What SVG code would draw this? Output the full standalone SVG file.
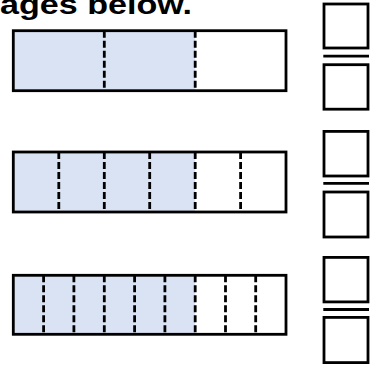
<svg xmlns="http://www.w3.org/2000/svg" width="370" height="368" viewBox="0 0 370 368">
<style>
.bar{stroke:#000;stroke-width:2.8;}
.div{stroke:#000;stroke-width:2.8;stroke-dasharray:7 3;fill:none;}
.box{fill:#fff;stroke:#000;stroke-width:2.8;}
.fl{stroke:#000;stroke-width:2.8;}
.title{font-family:"Liberation Sans",Arial,sans-serif;font-weight:bold;font-size:28px;fill:#000;}
</style>
<rect width="370" height="368" fill="#fff"/>
<text class="title" x="0" y="14" textLength="192" lengthAdjust="spacingAndGlyphs">ages below.</text>
<g id="bar1">
<rect x="13.3" y="30.7" width="181.9" height="60" fill="#dae3f3"/>
<rect class="bar" x="13.3" y="30.7" width="272.7" height="60" fill="none"/>
<line class="div" x1="104.3" y1="30.7" x2="104.3" y2="90.7"/>
<line class="div" x1="195.2" y1="30.7" x2="195.2" y2="90.7"/>
</g>
<g id="bar2">
<rect x="13.3" y="152" width="181.9" height="60" fill="#dae3f3"/>
<rect class="bar" x="13.3" y="152" width="272.7" height="60" fill="none"/>
<line class="div" x1="58.8" y1="152" x2="58.8" y2="212"/>
<line class="div" x1="104.3" y1="152" x2="104.3" y2="212"/>
<line class="div" x1="149.7" y1="152" x2="149.7" y2="212"/>
<line class="div" x1="195.2" y1="152" x2="195.2" y2="212"/>
<line class="div" x1="240.6" y1="152" x2="240.6" y2="212"/>
</g>
<g id="bar3">
<rect x="13.3" y="275.3" width="181.9" height="59" fill="#dae3f3"/>
<rect class="bar" x="13.3" y="275.3" width="272.7" height="59" fill="none"/>
<line class="div" x1="43.6" y1="275.3" x2="43.6" y2="334.3"/>
<line class="div" x1="73.9" y1="275.3" x2="73.9" y2="334.3"/>
<line class="div" x1="104.3" y1="275.3" x2="104.3" y2="334.3"/>
<line class="div" x1="134.6" y1="275.3" x2="134.6" y2="334.3"/>
<line class="div" x1="164.9" y1="275.3" x2="164.9" y2="334.3"/>
<line class="div" x1="195.2" y1="275.3" x2="195.2" y2="334.3"/>
<line class="div" x1="225.5" y1="275.3" x2="225.5" y2="334.3"/>
<line class="div" x1="255.7" y1="275.3" x2="255.7" y2="334.3"/>
</g>
<g id="fraction1">
<rect class="box" x="324" y="4" width="44" height="44"/>
<line class="fl" x1="323.3" y1="56.2" x2="369" y2="56.2"/>
<rect class="box" x="324" y="64.7" width="44" height="44.5"/>
</g>
<g id="fraction2">
<rect class="box" x="324" y="131.4" width="44" height="44.6"/>
<line class="fl" x1="323.3" y1="183.3" x2="369" y2="183.3"/>
<rect class="box" x="324" y="192" width="44" height="45"/>
</g>
<g id="fraction3">
<rect class="box" x="324" y="257.4" width="44" height="44.5"/>
<line class="fl" x1="323.3" y1="309.5" x2="369" y2="309.5"/>
<rect class="box" x="324" y="317.4" width="44" height="45.2"/>
</g>
</svg>
